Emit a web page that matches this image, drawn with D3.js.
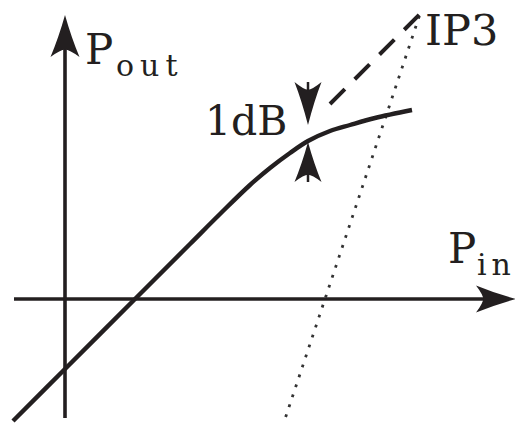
<!DOCTYPE html>
<html>
<head>
<meta charset="utf-8">
<script src="https://cdn.jsdelivr.net/npm/d3@7"></script>
<style>
  html, body { margin: 0; padding: 0; background: #fff; }
  svg { display: block; }
  text { font-family: "DejaVu Serif", serif; fill: #231f20; }
</style>
</head>
<body>
<svg id="chart" width="515" height="424"></svg>
<script>
// Output power vs input power of an amplifier (dB scale):
// compressed fundamental, its linear extrapolation and the third-order product.
const pinSamples  = [-5.2, 0, 7, 12.5, 15.5, 18.5, 20.5, 22.5, 24.3, 26.5, 28.5, 31, 34.7];
const poutSamples = [-12.2, -7, 0, 5.5, 8.5, 11.4, 13.1, 14.6, 15.8, 16.8, 17.4, 18.1, 18.9];

const linearGain = -7;              // small-signal line: Pout = Pin + linearGain
const extrapPin = [26.5, 35.5];     // dashed extrapolation of the small-signal line
const ip3Point = [35.5, 28.5];      // third-order intercept (Pin, Pout)
const thirdOrderPout = [-12.8, 28.5]; // third-order line, slope 3 into IP3
const compressionPin = 24.3;        // where the 1 dB gap is marked
const compressionPout = [21.7, 17.3, 15.8, 11.7]; // upper tail, line, curve, lower tail

const axisPin = [-5.1, 45.1];
const axisPout = [-11.9, 28.4];

const labels = {
  pout: ["P", "out"],
  pin: ["P", "in"],
  db: "1dB",
  ip3: "IP3"
};

const ink = "#231f20";
const svg = d3.select("#chart");

const x = d3.scaleLinear().domain([0, 10]).range([65, 165]);
const y = d3.scaleLinear().domain([0, 10]).range([299, 199]);

// arrowhead with a slightly notched back, tip at (tx,ty), pointing along angle a
function arrowHead(tx, ty, a, len, hw) {
  const ux = Math.cos(a), uy = Math.sin(a);
  const px = -uy, py = ux;
  const bx = tx - ux * len, by = ty - uy * len;
  const nx = tx - ux * len * 0.82, ny = ty - uy * len * 0.82;
  const p = d3.path();
  p.moveTo(tx, ty);
  p.quadraticCurveTo(tx - ux * len * 0.55 + px * hw * 0.45, ty - uy * len * 0.55 + py * hw * 0.45,
                     bx + px * hw, by + py * hw);
  p.quadraticCurveTo(nx + px * hw * 0.3, ny + py * hw * 0.3, nx, ny);
  p.quadraticCurveTo(nx - px * hw * 0.3, ny - py * hw * 0.3, bx - px * hw, by - py * hw);
  p.quadraticCurveTo(tx - ux * len * 0.55 - px * hw * 0.45, ty - uy * len * 0.55 - py * hw * 0.45,
                     tx, ty);
  p.closePath();
  svg.append("path").attr("d", p.toString()).attr("fill", ink);
}

// axes
svg.append("line")
  .attr("x1", x(axisPin[0])).attr("x2", x(axisPin[1]) - 20)
  .attr("y1", y(0)).attr("y2", y(0))
  .attr("stroke", ink).attr("stroke-width", 3.6);
arrowHead(x(axisPin[1]), y(0), 0, 40, 13.5);

svg.append("line")
  .attr("x1", x(0)).attr("x2", x(0))
  .attr("y1", y(axisPout[0])).attr("y2", y(axisPout[1]) + 20)
  .attr("stroke", ink).attr("stroke-width", 3.6);
arrowHead(x(0), y(axisPout[1]), -Math.PI / 2, 42, 14.5);

// third-order product (dotted, slope 3)
const thirdPin = thirdOrderPout.map(p => ip3Point[0] + (p - ip3Point[1]) / 3);
svg.append("line")
  .attr("x1", x(thirdPin[0])).attr("y1", y(thirdOrderPout[0]))
  .attr("x2", x(thirdPin[1])).attr("y2", y(thirdOrderPout[1]))
  .attr("stroke", "#333").attr("stroke-width", 2.8)
  .attr("stroke-dasharray", "2.8 7.7");

// extrapolated small-signal line (dashed)
svg.append("line")
  .attr("x1", x(extrapPin[0])).attr("y1", y(extrapPin[0] + linearGain))
  .attr("x2", x(extrapPin[1])).attr("y2", y(extrapPin[1] + linearGain))
  .attr("stroke", ink).attr("stroke-width", 4)
  .attr("stroke-dasharray", "21 14");

// measured fundamental output
const line = d3.line()
  .x((d, i) => x(pinSamples[i]))
  .y(d => y(d))
  .curve(d3.curveCatmullRom.alpha(0.5));
svg.append("path")
  .attr("d", line(poutSamples))
  .attr("fill", "none")
  .attr("stroke", ink).attr("stroke-width", 4.4)
  .attr("stroke-linecap", "butt");

// 1 dB compression markers
const cx = x(compressionPin);
svg.append("line")
  .attr("x1", cx).attr("x2", cx)
  .attr("y1", y(compressionPout[0])).attr("y2", y(compressionPout[0]) + 10)
  .attr("stroke", ink).attr("stroke-width", 2.5);
arrowHead(cx, y(compressionPout[1]) - 1, Math.PI / 2, y(compressionPout[1]) - y(compressionPout[0]) - 1, 13.5);
svg.append("line")
  .attr("x1", cx).attr("x2", cx)
  .attr("y1", y(compressionPout[3])).attr("y2", y(compressionPout[3]) - 10)
  .attr("stroke", ink).attr("stroke-width", 2.5);
arrowHead(cx, y(compressionPout[2]) + 1, -Math.PI / 2, y(compressionPout[3]) - y(compressionPout[2]) - 1, 13.5);

// labels
const pout = svg.append("text").attr("x", 85).attr("y", 64).attr("font-size", 42);
pout.append("tspan").text(labels.pout[0]);
pout.append("tspan").attr("x", 116).attr("y", 76).attr("font-size", 30)
  .attr("letter-spacing", 6).text(labels.pout[1]);

const pin = svg.append("text").attr("x", 448).attr("y", 263).attr("font-size", 42);
pin.append("tspan").text(labels.pin[0]);
pin.append("tspan").attr("x", 477).attr("y", 275).attr("font-size", 30)
  .attr("letter-spacing", 5).text(labels.pin[1]);

svg.append("text").attr("x", 205).attr("y", 135).attr("font-size", 41).text(labels.db);
svg.append("text").attr("x", 425).attr("y", 45).attr("font-size", 43).text(labels.ip3);
</script>
</body>
</html>
